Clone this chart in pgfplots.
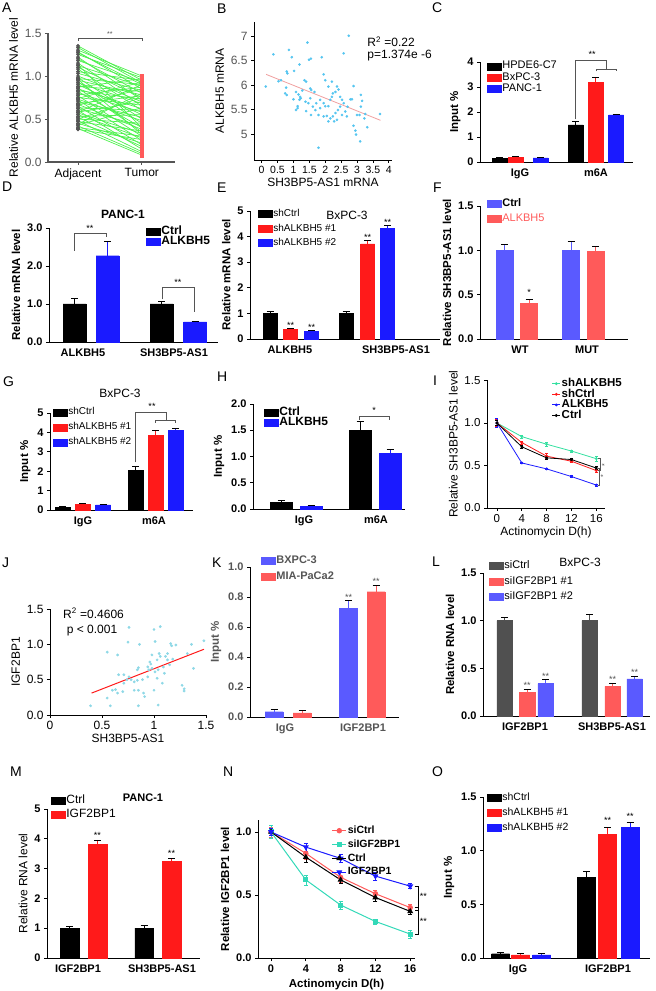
\documentclass[border=0pt]{standalone}
\usepackage{pgfplots}
\usepackage{pgfplotstable}
\pgfplotsset{compat=1.18}
\usepackage{fontspec}
\setmainfont{Liberation Sans}
\definecolor{cRed}{HTML}{FF1A1A}
\definecolor{cBlue}{HTML}{1A1AFF}
\definecolor{lBlue}{HTML}{5A5AFF}
\definecolor{lRed}{HTML}{FF5A5A}
\definecolor{dGray}{HTML}{505050}
\definecolor{aGreen}{HTML}{4CF04C}
\definecolor{tGray}{HTML}{555555}
\definecolor{bDot}{HTML}{55C5F0}
\definecolor{bLine}{HTML}{F0A0A0}
\definecolor{jDot}{HTML}{8ED8E6}
\definecolor{mint}{HTML}{33E0A0}
\definecolor{teal2}{HTML}{33D9B8}
\newcommand{\fs}[1]{\fontsize{#1}{#1}\selectfont}

\pgfplotstableread{
adj tum
1.35 0.95
1.33 0.92
1.30 1.00
1.28 0.85
1.27 0.90
1.25 0.98
1.22 0.72
1.20 0.80
1.18 0.93
1.15 0.65
1.12 0.88
1.10 0.75
1.08 0.60
1.05 0.95
1.03 0.83
1.00 0.70
0.98 0.50
0.97 0.90
0.95 0.78
0.93 0.45
0.92 0.68
0.90 0.55
0.88 0.82
0.86 0.35
0.85 0.62
0.83 0.73
0.82 0.40
0.80 0.58
0.78 0.87
0.77 0.30
0.75 0.66
0.73 0.48
0.72 0.25
0.70 0.52
0.68 0.77
0.67 0.38
0.65 0.20
0.63 0.60
0.62 0.42
0.60 0.15
0.58 0.70
0.57 0.33
0.55 0.28
0.53 0.55
0.52 0.18
0.50 0.45
0.48 0.12
0.47 0.36
0.45 0.22
0.43 0.63
0.42 0.10
0.40 0.30
0.39 0.08
0.38 0.26
1.13 0.40
0.96 0.32
0.87 0.97
0.74 0.93
0.66 0.85
0.58 0.90
0.50 0.75
0.44 0.80
}\dataA

\tikzset{
  star/.style={font=\fs{9}, inner sep=0pt},
  brk/.style={tGray, line width=0.7pt},
}
\pgfplotsset{
  base/.style={scale only axis, anchor=south west, axis lines=left,
    axis line style={line width=0.9pt,-},
    every outer x axis line/.append style={-}, every outer y axis line/.append style={-},
    clip=false, tick align=outside,
    major tick length=3pt, tick style={line width=0.8pt, black},
    /pgf/number format/assume math mode=true,
    ticklabel style={font=\fs{11}\bfseries},
    label style={font=\fs{11.5}\bfseries},
    legend cell align=left,
    legend style={draw=none, fill=none, inner sep=0pt, outer sep=0pt, anchor=north west,
      font=\fs{11}, row sep=1pt, nodes={inner sep=1pt, text height=0.75em, text depth=0.2em}},
  },
  bars/.style={base, ymin=0, xtick style={draw=none}, bar width=#1,
    error bars/y dir=plus, error bars/y explicit,
    error bars/error bar style={line width=0.8pt},
    error bars/error mark options={rotate=90, line width=0.8pt, mark size=3.5pt}},
  B/.style={ybar, bar shift=0pt, fill=#1, draw=#1,
    legend image code/.code={\fill[##1] (0pt,-3.5pt) rectangle (14pt,3.5pt);}},
}

\begin{document}
\begin{tikzpicture}[x=1pt,y=1pt]
\path[use as bounding box] (0,0) rectangle (656,991);

% ---------------- A
\begin{axis}[base, at={(48pt,829pt)}, width=127pt, height=129pt,
  xmin=0.53, xmax=2.52, ymin=0, ymax=1.5,
  xtick={1,2}, xticklabels={Adjacent,Tumor},
  ytick={0,0.5,1,1.5}, yticklabels={0.0,0.5,1.0,1.5},
  axis line style={tGray, line width=1.2pt}, tick style={tGray},
  ticklabel style={font=\fs{12}\mdseries}, yticklabel style={text=tGray},
  ylabel={Relative ALKBH5 mRNA level}, label style={font=\fs{12}\mdseries}]
\addplot[aGreen, line width=0.7pt, quiver={u=1, v=\thisrow{tum}-\thisrow{adj}}] table[x expr=1, y=adj] {\dataA};
\addplot[only marks, mark=*, mark size=1.7pt, color=tGray] table[x expr=1, y=adj] {\dataA};
\addplot[only marks, mark=square*, mark size=1.6pt, color=lRed] table[x expr=2, y=tum] {\dataA};
\draw[brk, line width=0.5pt] (axis cs:1,1.41) -- (axis cs:1,1.44) -- (axis cs:2,1.44) -- (axis cs:2,1.41);
\node[star, tGray, font=\fs{7}] at (axis cs:1.5,1.49) {**};
\end{axis}

% ---------------- B
\begin{axis}[base, at={(254pt,831pt)}, width=138pt, height=138pt,
  xmin=-0.24, xmax=4.1, ymin=4.47, ymax=7.29,
  xtick={0,0.5,1,1.5,2,2.5,3,3.5,4}, xticklabels={0,0.5,1,1.5,2,2.5,3,3.5,4},
  ytick={5,5.5,6,6.5,7}, yticklabels={5,5.5,6,6.5,7},
  ticklabel style={font=\fs{10.5}\mdseries}, yticklabel style={text=tGray, font=\fs{12}\mdseries},
  xlabel={SH3BP5-AS1 mRNA}, ylabel={ALKBH5 mRNA}, label style={font=\fs{12}\mdseries},
  xlabel style={yshift=3pt}]
\addplot[only marks, mark=*, mark size=1.1pt, color=bDot] coordinates {
(2.74,7.01)(1.44,6.87)(0.37,6.63)(0.86,6.72)(0.95,6.57)(1.49,6.52)(1.55,6.54)(1.89,6.57)(2.58,6.65)(1.19,6.42)
(0.79,6.28)(0.81,6.24)(1.02,6.29)(1.4,6.07)(1.35,6.1)(1.95,6.22)(2.0,6.1)(2.21,6.07)(2.1,5.97)(0.13,5.97)
(0.53,6.08)(0.61,6.1)(0.77,5.95)(0.74,5.83)(0.79,5.8)(1.08,5.86)(1.16,5.81)(1.21,5.76)(1.19,5.7)(1.23,5.73)
(1.53,5.93)(1.56,5.9)(1.66,5.86)(1.53,5.73)(1.47,5.63)(1.72,5.63)(1.61,5.56)(1.13,5.57)(1.08,5.49)(1.4,5.47)
(1.55,5.39)(1.84,5.7)(1.95,5.63)(2.0,5.57)(1.84,5.53)(1.79,5.39)(2.1,5.57)(2.16,5.7)(2.21,5.76)(2.24,5.83)
(2.32,5.86)(2.37,5.97)(2.42,5.91)(2.47,5.76)(2.53,5.7)(2.58,5.63)(2.47,5.56)(2.4,5.49)(2.32,5.43)(2.24,5.36)
(2.16,5.32)(2.1,5.26)(2.28,5.26)(2.37,5.29)(2.53,5.39)(2.63,5.46)(2.7,5.56)(2.79,5.71)(2.84,5.71)(2.89,5.98)
(2.68,5.36)(3.0,5.39)(3.08,5.39)(3.12,5.56)(3.12,5.8)(3.16,5.68)(3.23,5.32)(3.26,5.41)(2.89,5.17)(2.95,5.07)
(2.97,4.99)(3.1,4.85)(3.32,5.14)(3.72,5.41)(1.79,4.72)(2.05,5.37)(1.95,5.36)(1.69,5.49)(1.38,5.66)(1.28,5.89)
(1.0,5.71)(1.13,5.53)};
\addplot[bLine, line width=0.8pt] coordinates {(0.14,6.22) (3.74,5.28)};
\node[anchor=west, font=\fs{12}, inner sep=0pt] at (axis cs:3.32,6.88) {R\textsuperscript{2} =0.22};
\node[anchor=west, font=\fs{12}, inner sep=0pt] at (axis cs:3.32,6.61) {p=1.374e -6};
\end{axis}

% ---------------- C
\begin{axis}[bars=15, at={(480pt,829pt)}, width=153pt, height=100pt,
  xmin=480, xmax=633, ymax=4, ytick={0,1,2,3,4}, yticklabels={0,1,2,3,4},
  xtick={520,596}, xticklabels={IgG,m6A}, ylabel={Input \%},
  legend style={at={(0.046,1.015)}, font=\fs{11}, row sep=-0.3pt}]
\addplot[B=black] coordinates {(499.5,0.15) +- (0,0.03) (575.5,1.48) +- (0,0.15)};
\addplot[B=cRed] coordinates {(515.5,0.19) +- (0,0.04) (595.5,3.18) +- (0,0.22)};
\addplot[B=cBlue] coordinates {(540.5,0.16) +- (0,0.03) (616,1.88) +- (0,0.04)};
\legend{HPDE6-C7,BxPC-3,PANC-1}
\draw[brk] (axis cs:575.5,1.7) -- (axis cs:575.5,4.08) -- (axis cs:606,4.08) -- (axis cs:606,3.72);
\draw[brk] (axis cs:596,3.62) -- (axis cs:596,3.72) -- (axis cs:616,3.72) -- (axis cs:616,3.62);
\node[star] at (axis cs:592,4.3) {**};
\end{axis}

% ---------------- D
\begin{axis}[bars=23, at={(49pt,649pt)}, width=169pt, height=114pt,
  xmin=49, xmax=218, ymax=3, ytick={0,1,2,3}, yticklabels={0.0,1.0,2.0,3.0},
  xtick={83,174}, xticklabels={ALKBH5,SH3BP5-AS1}, ylabel={Relative mRNA level},
  legend style={at={(0.574,1.018)}, font=\fs{12}\bfseries, row sep=-1.4pt}]
\addplot[B=black] coordinates {(74.5,1.0) +- (0,0.15) (161.5,1.0) +- (0,0.07)};
\addplot[B=cBlue] coordinates {(107.5,2.27) +- (0,0.37) (195,0.53) +- (0,0.02)};
\legend{Ctrl,ALKBH5}
\draw[brk] (axis cs:74.5,2.4) -- (axis cs:74.5,2.87) -- (axis cs:106,2.87) -- (axis cs:106,2.75);
\node[star] at (axis cs:90,2.98) {**};
\draw[brk] (axis cs:162,1.12) -- (axis cs:162,1.45) -- (axis cs:194,1.45) -- (axis cs:194,0.78);
\node[star] at (axis cs:178,1.56) {**};
\node[font=\fs{12}\bfseries] at (axis cs:123,3.37) {PANC-1};
\end{axis}

% ---------------- E
\begin{axis}[bars=14, at={(250pt,652pt)}, width=190pt, height=128pt,
  xmin=250, xmax=440, ymax=5, ytick={0,1,2,3,4,5}, yticklabels={0,1,2,3,4,5},
  xtick={290,396}, xticklabels={ALKBH5,SH3BP5-AS1}, ylabel={Relative mRNA level},
  legend style={at={(0.042,1.023)}, font=\fs{10}, row sep=3pt}]
\addplot[B=black] coordinates {(270,1.0) +- (0,0.06) (346,1.0) +- (0,0.06)};
\addplot[B=cRed] coordinates {(290.5,0.38) +- (0,0.03) (367.5,3.72) +- (0,0.12)};
\addplot[B=cBlue] coordinates {(311.5,0.3) +- (0,0.03) (387.5,4.33) +- (0,0.1)};
\legend{shCtrl,shALKBH5 \#1,shALKBH5 \#2}
\node[star] at (axis cs:290.5,0.52) {**};
\node[star] at (axis cs:311.5,0.44) {**};
\node[star] at (axis cs:367.5,3.95) {**};
\node[star] at (axis cs:387.5,4.55) {**};
\node[font=\fs{12}] at (axis cs:347,4.84) {BxPC-3};
\end{axis}

% ---------------- F
\begin{axis}[bars=17, at={(480pt,652pt)}, width=148pt, height=133pt,
  xmin=480, xmax=628, ymax=1.5, ytick={0,0.5,1,1.5}, yticklabels={0.0,0.5,1.0,1.5},
  xtick={520,587}, xticklabels={WT,MUT}, ylabel={Relative SH3BP5-AS1 level},
  legend style={at={(0.047,1.06)}, font=\fs{11}, row sep=3.5pt}]
\addplot[B=lBlue] coordinates {(504.5,1.0) +- (0,0.07) (571,1.0) +- (0,0.1)};
\addplot[B=lRed] coordinates {(529,0.4) +- (0,0.05) (595.5,0.99) +- (0,0.05)};
\legend{\textbf{Ctrl},\textcolor{lRed}{ALKBH5}}
\node[star] at (axis cs:529,0.52) {*};
\end{axis}

% ---------------- G
\begin{axis}[bars=15, at={(50pt,481pt)}, width=143pt, height=97pt,
  xmin=50, xmax=193, ymax=5, ytick={0,1,2,3,4,5}, yticklabels={0,1,2,3,4,5},
  xtick={83,154}, xticklabels={IgG,m6A}, ylabel={Input \%},
  legend style={at={(0.021,1.067)}, font=\fs{10}, row sep=3.5pt}]
\addplot[B=black] coordinates {(62.5,0.15) +- (0,0.05) (135.5,2.03) +- (0,0.22)};
\addplot[B=cRed] coordinates {(83,0.28) +- (0,0.05) (155.5,3.85) +- (0,0.27)};
\addplot[B=cBlue] coordinates {(103,0.27) +- (0,0.03) (175.5,4.1) +- (0,0.12)};
\legend{shCtrl,shALKBH5 \#1,shALKBH5 \#2}
\draw[brk] (axis cs:135.5,2.45) -- (axis cs:135.5,5.05) -- (axis cs:166,5.05) -- (axis cs:166,4.64);
\draw[brk] (axis cs:155,4.5) -- (axis cs:155,4.64) -- (axis cs:175,4.64) -- (axis cs:175,4.5);
\node[star] at (axis cs:152,5.32) {**};
\node[font=\fs{12}] at (axis cs:120,6.0) {BxPC-3};
\end{axis}

% ---------------- H
\begin{axis}[bars=22, at={(253pt,482pt)}, width=152pt, height=105pt,
  xmin=253, xmax=405, ymax=2, ytick={0,0.5,1,1.5,2}, yticklabels={0.0,0.5,1.0,1.5,2.0},
  xtick={304,376}, xticklabels={IgG,m6A}, ylabel={Input \%},
  legend style={at={(0.072,0.971)}, font=\fs{12}\bfseries, row sep=-1.4pt}]
\addplot[B=black] coordinates {(281,0.12) +- (0,0.04) (360,1.5) +- (0,0.16)};
\addplot[B=cBlue] coordinates {(311,0.05) +- (0,0.01) (390,1.06) +- (0,0.08)};
\legend{Ctrl,ALKBH5}
\draw[brk] (axis cs:359,1.7) -- (axis cs:359,1.76) -- (axis cs:389,1.76) -- (axis cs:389,1.7);
\node[star] at (axis cs:374,1.87) {*};
\end{axis}

% ---------------- I
\begin{axis}[base, at={(487pt,483pt)}, width=118pt, height=127.5pt,
  xmin=-1.6, xmax=17.4, ymin=0, ymax=1.5,
  xtick={0,4,8,12,16}, xticklabels={0,4,8,12,16},
  ytick={0,0.5,1,1.5}, yticklabels={0.0,0.5,1.0,1.5},
  ticklabel style={font=\fs{11.5}\mdseries}, label style={font=\fs{12}\mdseries},
  xlabel={Actinomycin D(h)}, ylabel={Relative SH3BP5-AS1 level},
  xlabel style={yshift=3pt},
  error bars/y dir=both, error bars/y explicit,
  error bars/error bar style={line width=0.6pt},
  error bars/error mark options={rotate=90, line width=0.6pt, mark size=1.5pt},
  legend style={at={(0.55,1.02)}, font=\fs{11.5}\bfseries, row sep=-0.9pt},
  legend image code/.code={\draw[mark repeat=2,mark phase=2,#1] plot coordinates {(0pt,0pt) (4pt,0pt) (8pt,0pt)};}]
\addplot[mint, line width=0.8pt, mark=*, mark size=1pt] coordinates {(0,1.0) +- (0,0.03) (4,0.84) +- (0,0.02) (8,0.75) +- (0,0.02) (12,0.67) +- (0,0.01) (16,0.58) +- (0,0.03)};
\addplot[cRed, line width=0.8pt, mark=*, mark size=1pt] coordinates {(0,1.0) +- (0,0.04) (4,0.77) +- (0,0.02) (8,0.61) +- (0,0.03) (12,0.55) +- (0,0.01) (16,0.44) +- (0,0.02)};
\addplot[cBlue, line width=0.8pt, mark=*, mark size=1pt] coordinates {(0,1.0) +- (0,0.05) (4,0.53) +- (0,0.01) (8,0.46) +- (0,0.01) (12,0.37) +- (0,0.01) (16,0.27) +- (0,0.01)};
\addplot[black, line width=0.8pt, mark=*, mark size=1pt] coordinates {(0,1.0) +- (0,0.03) (4,0.72) +- (0,0.02) (8,0.59) +- (0,0.02) (12,0.57) +- (0,0.01) (16,0.47) +- (0,0.02)};
\legend{shALKBH5,shCtrl,ALKBH5,Ctrl}
\draw[brk, line width=0.5pt] (axis cs:16.3,0.58) -- (axis cs:16.7,0.58) -- (axis cs:16.7,0.44) -- (axis cs:16.3,0.44);
\draw[brk, line width=0.5pt] (axis cs:16.3,0.47) -- (axis cs:16.5,0.47) -- (axis cs:16.5,0.27) -- (axis cs:16.3,0.27);
\node[star, tGray, font=\fs{7}, rotate=90] at (axis cs:17.3,0.51) {*};
\node[star, tGray, font=\fs{7}, rotate=90] at (axis cs:17.1,0.37) {*};
\end{axis}

% ---------------- J
\begin{axis}[base, at={(50pt,276pt)}, width=156pt, height=106pt,
  xmin=0, xmax=1.5, ymin=0, ymax=1.5,
  xtick={0,0.5,1,1.5}, xticklabels={0,0.5,1,1.5},
  ytick={0,0.5,1,1.5}, yticklabels={0.0,0.5,1.0,1.5},
  ticklabel style={font=\fs{12}\mdseries}, label style={font=\fs{12}\mdseries},
  xlabel={SH3BP5-AS1}, ylabel={IGF2BP1}, xlabel style={yshift=3pt}]
\addplot[only marks, mark=*, mark size=1.2pt, color=jDot] coordinates {
(0.39,0.13)(0.55,0.24)(0.58,0.13)(0.55,0.89)(0.65,0.85)(0.63,0.36)(0.6,0.35)(0.65,0.31)(0.7,0.33)(0.66,0.57)
(0.71,0.57)(0.76,0.54)(0.74,0.5)(0.78,0.5)(0.76,1.24)(0.75,1.03)(0.81,0.47)(0.84,0.49)(0.85,0.67)(0.84,0.64)
(0.86,1.0)(0.85,0.35)(0.85,0.13)(0.91,0.26)(0.94,0.68)(0.95,0.64)(0.97,0.72)(0.96,0.75)(1.01,1.04)(1.0,1.21)
(1.06,1.25)(1.0,0.35)(1.04,0.14)(1.03,0.52)(1.04,0.64)(1.03,0.78)(1.05,0.87)(1.06,0.83)(1.09,0.68)(1.11,0.83)
(1.13,0.87)(1.16,1.01)(1.17,0.98)(1.21,0.99)(1.15,0.71)(1.08,0.45)(1.27,0.42)(1.29,0.37)(1.29,0.34)(1.36,1.0)
(1.38,0.66)(1.48,1.05)(1.32,0.87)(0.98,0.66)(0.94,0.54)(0.89,0.5)(0.81,0.35)(0.71,0.45)(1.13,0.78)(1.18,0.79)
(1.1,0.59)(1.01,0.61)(0.98,0.85)(0.9,0.31)};
\addplot[cRed, line width=1pt] coordinates {(0.4,0.31) (1.48,0.93)};
\node[anchor=west, font=\fs{12}, inner sep=0pt] at (axis cs:0.125,1.44) {R\textsuperscript{2} =0.4606};
\node[anchor=west, font=\fs{12}, inner sep=0pt] at (axis cs:0.16,1.2) {p < 0.001};
\end{axis}

% ---------------- K
\begin{axis}[bars=18, at={(250pt,274pt)}, width=149pt, height=150pt,
  xmin=250, xmax=399, ymax=1.0, ytick={0,0.2,0.4,0.6,0.8,1.0}, yticklabels={0.0,0.2,0.4,0.6,0.8,1.0},
  xtick={285,363}, xticklabels={IgG,IGF2BP1}, ylabel={Input \%},
  ticklabel style={text=tGray}, label style={text=tGray},
  legend style={at={(0.074,1.083)}, font=\fs{11}\bfseries, text=tGray, row sep=4.5pt}]
\addplot[B=lBlue] coordinates {(274,0.035) +- (0,0.015) (348.5,0.725) +- (0,0.05)};
\addplot[B=lRed] coordinates {(302,0.028) +- (0,0.015) (376,0.835) +- (0,0.04)};
\legend{BXPC-3,MIA-PaCa2}
\node[star, tGray] at (axis cs:348.5,0.8) {**};
\node[star, tGray] at (axis cs:376,0.905) {**};
\end{axis}

% ---------------- L
\begin{axis}[bars=15.5, at={(483pt,275pt)}, width=167pt, height=143pt,
  xmin=483, xmax=650, ymax=1.5, ytick={0,0.5,1,1.5}, yticklabels={0.0,0.5,1.0,1.5},
  xtick={525,612}, xticklabels={IGF2BP1,SH3BP5-AS1}, ylabel={Relative RNA level},
  legend style={at={(0.036,1.089)}, font=\fs{11}, row sep=4pt}]
\addplot[B=dGray] coordinates {(504.5,1.0) +- (0,0.03) (589.5,1.0) +- (0,0.07)};
\addplot[B=lRed] coordinates {(527,0.25) +- (0,0.03) (612.5,0.31) +- (0,0.03)};
\addplot[B=lBlue] coordinates {(545.5,0.34) +- (0,0.04) (634.5,0.39) +- (0,0.03)};
\legend{siCtrl,siIGF2BP1 \#1,siIGF2BP1 \#2}
\node[star, tGray] at (axis cs:527,0.32) {**};
\node[star, tGray] at (axis cs:545.5,0.42) {**};
\node[star, tGray] at (axis cs:612.5,0.38) {**};
\node[star, tGray] at (axis cs:634.5,0.46) {**};
\node[font=\fs{12}] at (axis cs:580,1.61) {BxPC-3};
\end{axis}

% ---------------- M
\begin{axis}[bars=18.5, at={(47pt,33pt)}, width=153pt, height=149pt,
  xmin=47, xmax=200, ymax=5, ytick={0,1,2,3,4,5}, yticklabels={0,1,2,3,4,5},
  xtick={78,162}, xticklabels={IGF2BP1,SH3BP5-AS1}, ylabel={Relative RNA level},
  label style={font=\fs{12}\mdseries},
  legend style={at={(0.026,1.094)}, font=\fs{12}, row sep=2.6pt},
  every axis legend/.append style={}]
\addplot[B=black] coordinates {(69.5,1.0) +- (0,0.07) (144,1.0) +- (0,0.1)};
\addplot[B=cRed] coordinates {(97.5,3.82) +- (0,0.14) (171.5,3.25) +- (0,0.1)};
\legend{Ctrl,IGF2BP1}
\node[star] at (axis cs:97.5,4.13) {**};
\node[star] at (axis cs:171.5,3.52) {**};
\node[font=\fs{11}\bfseries] at (axis cs:143,5.37) {PANC-1};
\end{axis}

% ---------------- N
\begin{axis}[base, at={(258pt,33pt)}, width=157pt, height=138pt,
  xmin=-1.5, xmax=16.55, ymin=0, ymax=1.095,
  xtick={0,4,8,12,16}, xticklabels={0,4,8,12,16},
  ytick={0,0.5,1}, yticklabels={0.0,0.5,1.0},
  xlabel={Actinomycin D(h)}, ylabel={Relative IGF2BP1 level},
  error bars/y dir=both, error bars/y explicit,
  error bars/error bar style={line width=0.6pt},
  error bars/error mark options={rotate=90, line width=0.6pt, mark size=2pt},
  legend style={at={(0.47,0.964)}, font=\fs{10.5}\bfseries, row sep=2.3pt},
  legend image code/.code={\draw[mark repeat=2,mark phase=2,#1] plot coordinates {(0pt,0pt) (7pt,0pt) (14pt,0pt)};}]
\addplot[lRed, line width=1pt, mark=*, mark size=2.2pt] coordinates {(0,1.0) +- (0,0.04) (4,0.83) +- (0,0.05) (8,0.64) +- (0,0.04) (12,0.51) +- (0,0.03) (16,0.40) +- (0,0.03)};
\addplot[teal2, line width=1pt, mark=square*, mark size=2pt] coordinates {(0,1.0) +- (0,0.05) (4,0.62) +- (0,0.04) (8,0.42) +- (0,0.03) (12,0.29) +- (0,0.02) (16,0.19) +- (0,0.03)};
\addplot[black, line width=1pt, mark=triangle*, mark size=2.5pt] coordinates {(0,1.0) +- (0,0.03) (4,0.80) +- (0,0.04) (8,0.62) +- (0,0.03) (12,0.48) +- (0,0.03) (16,0.37) +- (0,0.02)};
\addplot[cBlue, line width=1pt, mark=triangle*, mark size=2.5pt, mark options={rotate=180}] coordinates {(0,1.0) +- (0,0.03) (4,0.88) +- (0,0.03) (8,0.79) +- (0,0.03) (12,0.65) +- (0,0.03) (16,0.57) +- (0,0.02)};
\legend{siCtrl,siIGF2BP1,Ctrl,IGF2BP1}
\draw[black, line width=0.6pt] (axis cs:16.5,0.57) -- (axis cs:16.9,0.57) -- (axis cs:16.9,0.38) -- (axis cs:16.5,0.38);
\draw[black, line width=0.6pt] (axis cs:16.5,0.40) -- (axis cs:16.9,0.40) -- (axis cs:16.9,0.19) -- (axis cs:16.5,0.19);
\node[star, anchor=west] at (axis cs:17.1,0.49) {**};
\node[star, anchor=west] at (axis cs:17.1,0.29) {**};
\end{axis}

% ---------------- O
\begin{axis}[bars=18, at={(483pt,33pt)}, width=167pt, height=161pt,
  xmin=483, xmax=650, ymax=1.5, ytick={0,0.5,1,1.5}, yticklabels={0.0,0.5,1.0,1.5},
  xtick={518,608}, xticklabels={IgG,IGF2BP1}, ylabel={Input \%},
  legend style={at={(0.024,1.03)}, font=\fs{10.5}, row sep=3.5pt}]
\addplot[B=black] coordinates {(500.5,0.04) +- (0,0.01) (586.5,0.75) +- (0,0.06)};
\addplot[B=cRed] coordinates {(520.5,0.03) +- (0,0.01) (607.5,1.15) +- (0,0.07)};
\addplot[B=cBlue] coordinates {(541.5,0.03) +- (0,0.01) (630,1.22) +- (0,0.04)};
\legend{shCtrl,shALKBH5 \#1,shALKBH5 \#2}
\node[star] at (axis cs:607.5,1.28) {**};
\node[star] at (axis cs:630,1.32) {**};
\end{axis}

% panel letters
\foreach \L/\X/\Y in {A/2/988, B/217/987, C/432/988, D/2/809, E/217/808, F/433/808,
  G/3/614, H/217/619, I/433/615, J/2/433, K/212/433, L/432/434, M/10/224, N/223/224, O/432/224}
  \node[anchor=north west, inner sep=0pt, font=\fs{14}] at (\X,\Y) {\L};
\end{tikzpicture}
\end{document}
